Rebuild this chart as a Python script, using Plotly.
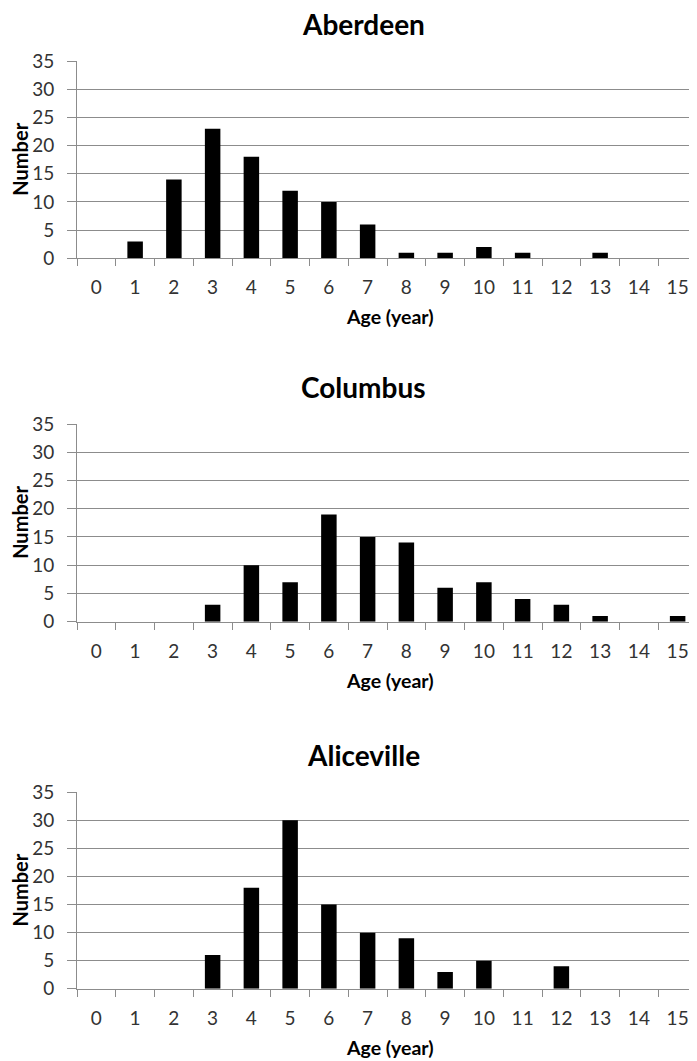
import plotly.graph_objects as go

ages = [str(a) for a in range(16)]
sites = ["Aberdeen", "Columbus", "Aliceville"]
aberdeen = [0, 3, 14, 23, 18, 12, 10, 6, 1, 1, 2, 1, 0, 1, 0, 0]
columbus = [0, 0, 0, 3, 10, 7, 19, 15, 14, 6, 7, 4, 3, 1, 0, 1]
aliceville = [0, 0, 0, 6, 18, 30, 15, 10, 9, 3, 5, 0, 4, 0, 0, 0]
y_ticks = [0, 5, 10, 15, 20, 25, 30, 35]
x_title = "Age (year)"
y_title = "Number"

# the page body has an 8px margin; lay out in page pixels and offset
OFF = 8
W, H = 697 - OFF, 1061 - OFF
FONT = "Lato, Carlito, Calibri, sans-serif"
GRID = "#8c8c8c"
TICKCOL = "#333333"

def px_x(x):
    return (x - OFF) / W

def px_y(y):
    return 1 - (y - OFF) / H

# panel pixel extents in page coords (top, bottom)
panels_px = [(61, 258.3), (424, 621.7), (792.3, 988.8)]
x_left, x_right = 77, 698

fig = go.Figure()
series = [aberdeen, columbus, aliceville]
for i, (name, vals) in enumerate(zip(sites, series)):
    idx = "" if i == 0 else str(i + 1)
    fig.add_trace(go.Bar(
        x=ages, y=vals, name=name,
        marker=dict(color="black", line=dict(width=0)),
        xaxis="x" + idx, yaxis="y" + idx, showlegend=False,
    ))
    T, B = panels_px[i]
    fig.layout["xaxis" + idx] = dict(
        type="category", categoryorder="array", categoryarray=ages,
        domain=[px_x(x_left), min(1.0, px_x(x_right))],
        anchor="y" + idx, automargin=False,
        tickson="boundaries", ticks="outside", ticklen=7, tickcolor=GRID, tickwidth=1,
        showgrid=False, showline=True, linecolor=GRID, linewidth=1,
        tickfont=dict(family=FONT, size=19, color=TICKCOL),
        ticklabelstandoff=12, zeroline=False,
    )
    fig.layout["yaxis" + idx] = dict(
        domain=[px_y(B), px_y(T)], anchor="x" + idx, automargin=False,
        range=[0, 35], tickvals=y_ticks,
        ticks="outside", ticklen=9, tickcolor=GRID, tickwidth=1,
        showgrid=True, gridcolor=GRID, gridwidth=1,
        showline=True, linecolor=GRID, linewidth=1, zeroline=False,
        tickfont=dict(family=FONT, size=19, color=TICKCOL),
        ticklabelstandoff=9,
    )
    # title
    fig.add_annotation(text="<b>%s</b>" % name, x=px_x(363), y=px_y(T - 37),
                       xref="paper", yref="paper", showarrow=False,
                       xanchor="center", yanchor="middle",
                       font=dict(family=FONT, size=28, color="black"))
    # x title
    fig.add_annotation(text="<b>%s</b>" % x_title, x=px_x(390), y=px_y(B + 58.5),
                       xref="paper", yref="paper", showarrow=False,
                       xanchor="center", yanchor="middle",
                       font=dict(family=FONT, size=19.5, color="black"))
    # y title
    fig.add_annotation(text="<b>%s</b>" % y_title, x=px_x(20), y=px_y((T + B) / 2),
                       xref="paper", yref="paper", showarrow=False, textangle=-90,
                       xanchor="center", yanchor="middle",
                       font=dict(family=FONT, size=20, color="black"))

fig.update_layout(
    width=W, height=H, margin=dict(l=0, r=0, t=0, b=0, autoexpand=False),
    paper_bgcolor="white", plot_bgcolor="white",
    bargap=0.6,
)
fig.write_html("out.html")
